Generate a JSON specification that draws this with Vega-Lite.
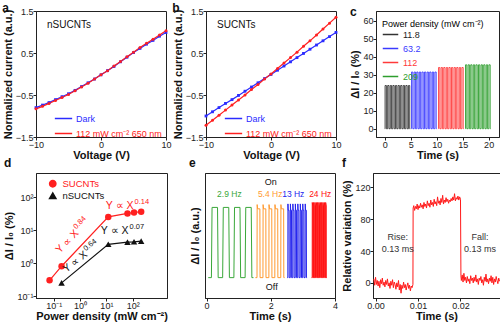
{
"$schema": "https://vega.github.io/schema/vega-lite/v6.json",
"padding": {"left": 1, "top": 1, "right": 0, "bottom": 0},
"spacing": -5,
"config": {
  "font": "Liberation Sans",
  "view": {"stroke": "#222", "strokeWidth": 1},
  "axis": {"labelFontSize": 9, "titleFontSize": 11, "titleFontWeight": "bold", "labelColor": "#222", "titleColor": "#111", "domainColor": "#222", "tickColor": "#222", "tickSize": 3, "grid": false, "labelPadding": 0, "titlePadding": 0, "labelFlush": false},
  "title": {"fontSize": 12, "fontWeight": "bold", "anchor": "start", "frame": "bounds", "offset": -8, "color": "#111"},
  "legend": {"labelFontSize": 9, "titleFontSize": 9, "titleFontWeight": "normal", "padding": 0, "rowPadding": 0}
},
"datasets": {
  "ivA": [
    {"s":"Dark","v":-10,"i":-0.80},{"s":"Dark","v":-9,"i":-0.74},{"s":"Dark","v":-8,"i":-0.68},{"s":"Dark","v":-7,"i":-0.61},{"s":"Dark","v":-6,"i":-0.54},{"s":"Dark","v":-5,"i":-0.47},{"s":"Dark","v":-4,"i":-0.39},{"s":"Dark","v":-3,"i":-0.30},{"s":"Dark","v":-2,"i":-0.21},{"s":"Dark","v":-1,"i":-0.12},{"s":"Dark","v":0,"i":-0.02},{"s":"Dark","v":1,"i":0.08},{"s":"Dark","v":2,"i":0.18},{"s":"Dark","v":3,"i":0.29},{"s":"Dark","v":4,"i":0.40},{"s":"Dark","v":5,"i":0.51},{"s":"Dark","v":6,"i":0.61},{"s":"Dark","v":7,"i":0.71},{"s":"Dark","v":8,"i":0.80},{"s":"Dark","v":9,"i":0.90},{"s":"Dark","v":10,"i":0.99},
    {"s":"112 mW cm⁻² 650 nm","v":-10,"i":-0.83},{"s":"112 mW cm⁻² 650 nm","v":-9,"i":-0.77},{"s":"112 mW cm⁻² 650 nm","v":-8,"i":-0.70},{"s":"112 mW cm⁻² 650 nm","v":-7,"i":-0.63},{"s":"112 mW cm⁻² 650 nm","v":-6,"i":-0.56},{"s":"112 mW cm⁻² 650 nm","v":-5,"i":-0.49},{"s":"112 mW cm⁻² 650 nm","v":-4,"i":-0.40},{"s":"112 mW cm⁻² 650 nm","v":-3,"i":-0.31},{"s":"112 mW cm⁻² 650 nm","v":-2,"i":-0.22},{"s":"112 mW cm⁻² 650 nm","v":-1,"i":-0.12},{"s":"112 mW cm⁻² 650 nm","v":0,"i":-0.02},{"s":"112 mW cm⁻² 650 nm","v":1,"i":0.08},{"s":"112 mW cm⁻² 650 nm","v":2,"i":0.19},{"s":"112 mW cm⁻² 650 nm","v":3,"i":0.30},{"s":"112 mW cm⁻² 650 nm","v":4,"i":0.41},{"s":"112 mW cm⁻² 650 nm","v":5,"i":0.52},{"s":"112 mW cm⁻² 650 nm","v":6,"i":0.63},{"s":"112 mW cm⁻² 650 nm","v":7,"i":0.73},{"s":"112 mW cm⁻² 650 nm","v":8,"i":0.83},{"s":"112 mW cm⁻² 650 nm","v":9,"i":0.93},{"s":"112 mW cm⁻² 650 nm","v":10,"i":1.03}
  ],
  "ivB": [
    {"s":"Dark","v":-10,"i":-1.00},{"s":"Dark","v":-9,"i":-0.90},{"s":"Dark","v":-8,"i":-0.80},{"s":"Dark","v":-7,"i":-0.70},{"s":"Dark","v":-6,"i":-0.61},{"s":"Dark","v":-5,"i":-0.51},{"s":"Dark","v":-4,"i":-0.41},{"s":"Dark","v":-3,"i":-0.31},{"s":"Dark","v":-2,"i":-0.21},{"s":"Dark","v":-1,"i":-0.11},{"s":"Dark","v":0,"i":-0.01},{"s":"Dark","v":1,"i":0.09},{"s":"Dark","v":2,"i":0.19},{"s":"Dark","v":3,"i":0.29},{"s":"Dark","v":4,"i":0.39},{"s":"Dark","v":5,"i":0.49},{"s":"Dark","v":6,"i":0.59},{"s":"Dark","v":7,"i":0.69},{"s":"Dark","v":8,"i":0.79},{"s":"Dark","v":9,"i":0.89},{"s":"Dark","v":10,"i":0.99},
    {"s":"112 mW cm⁻² 650 nm","v":-10,"i":-1.22},{"s":"112 mW cm⁻² 650 nm","v":-9,"i":-1.10},{"s":"112 mW cm⁻² 650 nm","v":-8,"i":-0.98},{"s":"112 mW cm⁻² 650 nm","v":-7,"i":-0.86},{"s":"112 mW cm⁻² 650 nm","v":-6,"i":-0.74},{"s":"112 mW cm⁻² 650 nm","v":-5,"i":-0.62},{"s":"112 mW cm⁻² 650 nm","v":-4,"i":-0.50},{"s":"112 mW cm⁻² 650 nm","v":-3,"i":-0.37},{"s":"112 mW cm⁻² 650 nm","v":-2,"i":-0.25},{"s":"112 mW cm⁻² 650 nm","v":-1,"i":-0.12},{"s":"112 mW cm⁻² 650 nm","v":0,"i":0.00},{"s":"112 mW cm⁻² 650 nm","v":1,"i":0.13},{"s":"112 mW cm⁻² 650 nm","v":2,"i":0.26},{"s":"112 mW cm⁻² 650 nm","v":3,"i":0.39},{"s":"112 mW cm⁻² 650 nm","v":4,"i":0.52},{"s":"112 mW cm⁻² 650 nm","v":5,"i":0.66},{"s":"112 mW cm⁻² 650 nm","v":6,"i":0.79},{"s":"112 mW cm⁻² 650 nm","v":7,"i":0.93},{"s":"112 mW cm⁻² 650 nm","v":8,"i":1.07},{"s":"112 mW cm⁻² 650 nm","v":9,"i":1.21},{"s":"112 mW cm⁻² 650 nm","v":10,"i":1.35}
  ],
  "pulsesC": [
    {"p":"11.8","t":0,"y":0},{"p":"11.8","t":0.05,"y":24},{"p":"11.8","t":0.3,"y":0},{"p":"11.8","t":0.55,"y":24},{"p":"11.8","t":0.8,"y":0},{"p":"11.8","t":1.05,"y":24},{"p":"11.8","t":1.3,"y":0},{"p":"11.8","t":1.55,"y":24},{"p":"11.8","t":1.8,"y":0},{"p":"11.8","t":2.05,"y":24},{"p":"11.8","t":2.3,"y":0},{"p":"11.8","t":2.55,"y":24},{"p":"11.8","t":2.8,"y":0},{"p":"11.8","t":3.05,"y":24},{"p":"11.8","t":3.3,"y":0},{"p":"11.8","t":3.55,"y":24},{"p":"11.8","t":3.8,"y":0},{"p":"11.8","t":4.05,"y":24},{"p":"11.8","t":4.3,"y":0},{"p":"11.8","t":4.55,"y":24},{"p":"11.8","t":4.8,"y":0},{"p":"11.8","t":4.9,"y":0},
    {"p":"63.2","t":5.1,"y":0},{"p":"63.2","t":5.15,"y":31.5},{"p":"63.2","t":5.4,"y":0},{"p":"63.2","t":5.65,"y":31.5},{"p":"63.2","t":5.9,"y":0},{"p":"63.2","t":6.15,"y":31.5},{"p":"63.2","t":6.4,"y":0},{"p":"63.2","t":6.65,"y":31.5},{"p":"63.2","t":6.9,"y":0},{"p":"63.2","t":7.15,"y":31.5},{"p":"63.2","t":7.4,"y":0},{"p":"63.2","t":7.65,"y":31.5},{"p":"63.2","t":7.9,"y":0},{"p":"63.2","t":8.15,"y":31.5},{"p":"63.2","t":8.4,"y":0},{"p":"63.2","t":8.65,"y":31.5},{"p":"63.2","t":8.9,"y":0},{"p":"63.2","t":9.15,"y":31.5},{"p":"63.2","t":9.4,"y":0},{"p":"63.2","t":9.65,"y":31.5},{"p":"63.2","t":9.9,"y":0},{"p":"63.2","t":10.0,"y":0},
    {"p":"112","t":10.3,"y":0},{"p":"112","t":10.35,"y":34},{"p":"112","t":10.6,"y":0},{"p":"112","t":10.85,"y":34},{"p":"112","t":11.1,"y":0},{"p":"112","t":11.35,"y":34},{"p":"112","t":11.6,"y":0},{"p":"112","t":11.85,"y":34},{"p":"112","t":12.1,"y":0},{"p":"112","t":12.35,"y":34},{"p":"112","t":12.6,"y":0},{"p":"112","t":12.85,"y":34},{"p":"112","t":13.1,"y":0},{"p":"112","t":13.35,"y":34},{"p":"112","t":13.6,"y":0},{"p":"112","t":13.85,"y":34},{"p":"112","t":14.1,"y":0},{"p":"112","t":14.35,"y":34},{"p":"112","t":14.6,"y":0},{"p":"112","t":14.85,"y":34},{"p":"112","t":15.1,"y":0},{"p":"112","t":15.2,"y":0},
    {"p":"209","t":15.5,"y":0},{"p":"209","t":15.55,"y":35.5},{"p":"209","t":15.8,"y":0},{"p":"209","t":16.05,"y":35.5},{"p":"209","t":16.3,"y":0},{"p":"209","t":16.55,"y":35.5},{"p":"209","t":16.8,"y":0},{"p":"209","t":17.05,"y":35.5},{"p":"209","t":17.3,"y":0},{"p":"209","t":17.55,"y":35.5},{"p":"209","t":17.8,"y":0},{"p":"209","t":18.05,"y":35.5},{"p":"209","t":18.3,"y":0},{"p":"209","t":18.55,"y":35.5},{"p":"209","t":18.8,"y":0},{"p":"209","t":19.05,"y":35.5},{"p":"209","t":19.3,"y":0},{"p":"209","t":19.55,"y":35.5},{"p":"209","t":19.8,"y":0},{"p":"209","t":20.05,"y":35.5},{"p":"209","t":20.3,"y":0},{"p":"209","t":20.4,"y":0}
  ],
  "powerD": [
    {"s":"SUCNTs","x":0.07,"y":0.3},{"s":"SUCNTs","x":0.2,"y":0.8},{"s":"SUCNTs","x":11.8,"y":25},{"s":"SUCNTs","x":63.2,"y":32},{"s":"SUCNTs","x":112,"y":34},{"s":"SUCNTs","x":209,"y":36},
    {"s":"nSUCNTs","x":0.2,"y":0.25},{"s":"nSUCNTs","x":11.8,"y":3.7},{"s":"nSUCNTs","x":63.2,"y":4.3},{"s":"nSUCNTs","x":112,"y":4.4},{"s":"nSUCNTs","x":209,"y":4.6}
  ],
  "freqE": [
    {"s":"2.9 Hz","t":0.05,"y":0},{"s":"2.9 Hz","t":0.15,"y":0},{"s":"2.9 Hz","t":0.17,"y":1},{"s":"2.9 Hz","t":0.34,"y":1},{"s":"2.9 Hz","t":0.36,"y":0},{"s":"2.9 Hz","t":0.5,"y":0},{"s":"2.9 Hz","t":0.52,"y":1},{"s":"2.9 Hz","t":0.69,"y":1},{"s":"2.9 Hz","t":0.71,"y":0},{"s":"2.9 Hz","t":0.85,"y":0},{"s":"2.9 Hz","t":0.87,"y":1},{"s":"2.9 Hz","t":1.04,"y":1},{"s":"2.9 Hz","t":1.06,"y":0},{"s":"2.9 Hz","t":1.2,"y":0},{"s":"2.9 Hz","t":1.22,"y":1},{"s":"2.9 Hz","t":1.39,"y":1},{"s":"2.9 Hz","t":1.41,"y":0},{"s":"2.9 Hz","t":1.46,"y":0},
    {"s":"5.4 Hz","t":1.52,"y":0},{"s":"5.4 Hz","t":1.57,"y":0},{"s":"5.4 Hz","t":1.575,"y":1.04},{"s":"5.4 Hz","t":1.59,"y":0.98},{"s":"5.4 Hz","t":1.66,"y":0.98},{"s":"5.4 Hz","t":1.665,"y":0},{"s":"5.4 Hz","t":1.755,"y":0},{"s":"5.4 Hz","t":1.76,"y":1.04},{"s":"5.4 Hz","t":1.775,"y":0.98},{"s":"5.4 Hz","t":1.845,"y":0.98},{"s":"5.4 Hz","t":1.85,"y":0},{"s":"5.4 Hz","t":1.94,"y":0},{"s":"5.4 Hz","t":1.945,"y":1.04},{"s":"5.4 Hz","t":1.96,"y":0.98},{"s":"5.4 Hz","t":2.03,"y":0.98},{"s":"5.4 Hz","t":2.035,"y":0},{"s":"5.4 Hz","t":2.125,"y":0},{"s":"5.4 Hz","t":2.13,"y":1.04},{"s":"5.4 Hz","t":2.145,"y":0.98},{"s":"5.4 Hz","t":2.215,"y":0.98},{"s":"5.4 Hz","t":2.22,"y":0},{"s":"5.4 Hz","t":2.31,"y":0},{"s":"5.4 Hz","t":2.315,"y":1.04},{"s":"5.4 Hz","t":2.33,"y":0.98},{"s":"5.4 Hz","t":2.4,"y":0.98},{"s":"5.4 Hz","t":2.405,"y":0},{"s":"5.4 Hz","t":2.43,"y":0},
    {"s":"13 Hz","t":2.51,"y":0},
    {"s":"13 Hz","t":2.53,"y":0},{"s":"13 Hz","t":2.534,"y":1.05},{"s":"13 Hz","t":2.542,"y":0.96},{"s":"13 Hz","t":2.568,"y":0.96},{"s":"13 Hz","t":2.572,"y":0},
    {"s":"13 Hz","t":2.607,"y":0},{"s":"13 Hz","t":2.611,"y":1.05},{"s":"13 Hz","t":2.619,"y":0.96},{"s":"13 Hz","t":2.645,"y":0.96},{"s":"13 Hz","t":2.649,"y":0},
    {"s":"13 Hz","t":2.684,"y":0},{"s":"13 Hz","t":2.688,"y":1.05},{"s":"13 Hz","t":2.696,"y":0.96},{"s":"13 Hz","t":2.722,"y":0.96},{"s":"13 Hz","t":2.726,"y":0},
    {"s":"13 Hz","t":2.761,"y":0},{"s":"13 Hz","t":2.765,"y":1.05},{"s":"13 Hz","t":2.773,"y":0.96},{"s":"13 Hz","t":2.799,"y":0.96},{"s":"13 Hz","t":2.803,"y":0},
    {"s":"13 Hz","t":2.838,"y":0},{"s":"13 Hz","t":2.842,"y":1.05},{"s":"13 Hz","t":2.85,"y":0.96},{"s":"13 Hz","t":2.876,"y":0.96},{"s":"13 Hz","t":2.88,"y":0},
    {"s":"13 Hz","t":2.915,"y":0},{"s":"13 Hz","t":2.919,"y":1.05},{"s":"13 Hz","t":2.927,"y":0.96},{"s":"13 Hz","t":2.953,"y":0.96},{"s":"13 Hz","t":2.957,"y":0},
    {"s":"13 Hz","t":2.992,"y":0},{"s":"13 Hz","t":2.996,"y":1.05},{"s":"13 Hz","t":3.004,"y":0.96},{"s":"13 Hz","t":3.03,"y":0.96},{"s":"13 Hz","t":3.034,"y":0},
    {"s":"13 Hz","t":3.069,"y":0},{"s":"13 Hz","t":3.073,"y":1.05},{"s":"13 Hz","t":3.081,"y":0.96},{"s":"13 Hz","t":3.107,"y":0.96},{"s":"13 Hz","t":3.111,"y":0},
    {"s":"13 Hz","t":3.13,"y":0},
    {"s":"24 Hz","t":3.27,"y":0},
    {"s":"24 Hz","t":3.29,"y":0},{"s":"24 Hz","t":3.292,"y":1.07},{"s":"24 Hz","t":3.309,"y":1.02},{"s":"24 Hz","t":3.311,"y":0},
    {"s":"24 Hz","t":3.332,"y":0},{"s":"24 Hz","t":3.334,"y":1.07},{"s":"24 Hz","t":3.351,"y":1.02},{"s":"24 Hz","t":3.353,"y":0},
    {"s":"24 Hz","t":3.373,"y":0},{"s":"24 Hz","t":3.375,"y":1.07},{"s":"24 Hz","t":3.392,"y":1.02},{"s":"24 Hz","t":3.394,"y":0},
    {"s":"24 Hz","t":3.415,"y":0},{"s":"24 Hz","t":3.417,"y":1.07},{"s":"24 Hz","t":3.434,"y":1.02},{"s":"24 Hz","t":3.436,"y":0},
    {"s":"24 Hz","t":3.457,"y":0},{"s":"24 Hz","t":3.459,"y":1.07},{"s":"24 Hz","t":3.476,"y":1.02},{"s":"24 Hz","t":3.478,"y":0},
    {"s":"24 Hz","t":3.498,"y":0},{"s":"24 Hz","t":3.5,"y":1.07},{"s":"24 Hz","t":3.517,"y":1.02},{"s":"24 Hz","t":3.519,"y":0},
    {"s":"24 Hz","t":3.54,"y":0},{"s":"24 Hz","t":3.542,"y":1.07},{"s":"24 Hz","t":3.559,"y":1.02},{"s":"24 Hz","t":3.561,"y":0},
    {"s":"24 Hz","t":3.582,"y":0},{"s":"24 Hz","t":3.584,"y":1.07},{"s":"24 Hz","t":3.601,"y":1.02},{"s":"24 Hz","t":3.603,"y":0},
    {"s":"24 Hz","t":3.623,"y":0},{"s":"24 Hz","t":3.625,"y":1.07},{"s":"24 Hz","t":3.642,"y":1.02},{"s":"24 Hz","t":3.644,"y":0},
    {"s":"24 Hz","t":3.665,"y":0},{"s":"24 Hz","t":3.667,"y":1.07},{"s":"24 Hz","t":3.684,"y":1.02},{"s":"24 Hz","t":3.686,"y":0},
    {"s":"24 Hz","t":3.707,"y":0},{"s":"24 Hz","t":3.709,"y":1.07},{"s":"24 Hz","t":3.726,"y":1.02},{"s":"24 Hz","t":3.728,"y":0},
    {"s":"24 Hz","t":3.75,"y":0}
  ],
  "respF": [
    {"t":-0.0004,"v":5},{"t":-0.0002,"v":-3},{"t":0.0,"v":7},{"t":0.0002,"v":-2},{"t":0.0004,"v":3},{"t":0.0006,"v":-4},{"t":0.0008,"v":2},{"t":0.001,"v":-6},{"t":0.0012,"v":4},{"t":0.0014,"v":-1},{"t":0.0016,"v":6},{"t":0.0018,"v":-3},{"t":0.002,"v":1},{"t":0.0022,"v":-5},{"t":0.0024,"v":3},{"t":0.0026,"v":-2},{"t":0.0028,"v":5},{"t":0.003,"v":-4},{"t":0.0032,"v":0},{"t":0.0034,"v":-7},{"t":0.0036,"v":2},{"t":0.0038,"v":-3},{"t":0.004,"v":4},{"t":0.0042,"v":-6},{"t":0.0044,"v":1},{"t":0.0046,"v":-2},{"t":0.0048,"v":-8},{"t":0.005,"v":0},{"t":0.0052,"v":-5},{"t":0.0054,"v":3},{"t":0.0056,"v":-9},{"t":0.0058,"v":-2},{"t":0.006,"v":-13},{"t":0.0062,"v":-3},{"t":0.0064,"v":-7},{"t":0.0066,"v":1},{"t":0.0068,"v":-6},{"t":0.007,"v":-2},{"t":0.0072,"v":-9},{"t":0.0074,"v":-4},{"t":0.0076,"v":0},{"t":0.0078,"v":-7},{"t":0.008,"v":-3},{"t":0.0082,"v":-10},{"t":0.0084,"v":-4},{"t":0.0086,"v":-6},{"t":0.0088,"v":-2},
    {"t":0.00885,"v":94},{"t":0.009,"v":97},{"t":0.0092,"v":91},{"t":0.0094,"v":96},{"t":0.0096,"v":93},{"t":0.0098,"v":99},{"t":0.01,"v":92},{"t":0.0102,"v":97},{"t":0.0104,"v":94},{"t":0.0106,"v":100},{"t":0.0108,"v":95},{"t":0.011,"v":98},{"t":0.0112,"v":93},{"t":0.0114,"v":101},{"t":0.0116,"v":96},{"t":0.0118,"v":99},{"t":0.012,"v":94},{"t":0.0122,"v":103},{"t":0.0124,"v":97},{"t":0.0126,"v":100},{"t":0.0128,"v":95},{"t":0.013,"v":104},{"t":0.0132,"v":98},{"t":0.0134,"v":101},{"t":0.0136,"v":96},{"t":0.0138,"v":105},{"t":0.014,"v":99},{"t":0.0142,"v":102},{"t":0.0144,"v":97},{"t":0.0146,"v":108},{"t":0.0148,"v":100},{"t":0.015,"v":103},{"t":0.0152,"v":98},{"t":0.0154,"v":106},{"t":0.0156,"v":101},{"t":0.0158,"v":110},{"t":0.016,"v":99},{"t":0.0162,"v":104},{"t":0.0164,"v":101},{"t":0.0166,"v":107},{"t":0.0168,"v":102},{"t":0.017,"v":105},{"t":0.0172,"v":100},{"t":0.0174,"v":104},{"t":0.0176,"v":102},{"t":0.0178,"v":106},{"t":0.018,"v":103},{"t":0.0182,"v":108},{"t":0.0184,"v":104},{"t":0.0186,"v":112},{"t":0.0188,"v":103},{"t":0.019,"v":107},{"t":0.0192,"v":105},{"t":0.0194,"v":109},{"t":0.0196,"v":104},{"t":0.0198,"v":108},{"t":0.02,"v":105},
    {"t":0.0201,"v":9},{"t":0.0202,"v":3},{"t":0.0204,"v":10},{"t":0.0206,"v":1},{"t":0.0208,"v":12},{"t":0.021,"v":3},{"t":0.0212,"v":7},{"t":0.0214,"v":0},{"t":0.0216,"v":8},{"t":0.0218,"v":2},{"t":0.022,"v":5},{"t":0.0222,"v":-1},{"t":0.0224,"v":9},{"t":0.0226,"v":3},{"t":0.0228,"v":6},{"t":0.023,"v":0},{"t":0.0232,"v":7},{"t":0.0234,"v":2},{"t":0.0236,"v":10},{"t":0.0238,"v":1},{"t":0.024,"v":5},{"t":0.0242,"v":-2},{"t":0.0244,"v":6},{"t":0.0246,"v":3},{"t":0.0248,"v":8},{"t":0.025,"v":0},{"t":0.0252,"v":4},{"t":0.0254,"v":-3},{"t":0.0256,"v":7},{"t":0.0258,"v":2},{"t":0.026,"v":11},{"t":0.0262,"v":1},{"t":0.0264,"v":5},{"t":0.0266,"v":-1},{"t":0.0268,"v":6},{"t":0.027,"v":2},{"t":0.0272,"v":9},{"t":0.0274,"v":0},{"t":0.0276,"v":7},{"t":0.0278,"v":-2},{"t":0.028,"v":5},{"t":0.0282,"v":1},{"t":0.0284,"v":8},{"t":0.0286,"v":3},{"t":0.0288,"v":-1},{"t":0.029,"v":6},{"t":0.0292,"v":2}
  ]
},
"resolve": {"scale": {"color": "independent", "shape": "independent"}, "legend": {"color": "independent", "shape": "independent"}},
"vconcat": [
 {
  "spacing": 40,
  "bounds": "flush",
  "resolve": {"scale": {"color": "independent", "shape": "independent", "x": "independent", "y": "independent"}, "legend": {"color": "independent", "shape": "independent"}},
  "hconcat": [
   {
    "title": {"text": "a"},
    "width": 130, "height": 126,
    "data": {"name": "ivA"},
    "layer": [
     {"mark": {"type": "line", "strokeWidth": 1.2},
      "encoding": {
       "x": {"field": "v", "type": "quantitative", "scale": {"domain": [-10, 10], "nice": false}, "axis": {"values": [-10, -5, 0, 5, 10], "title": "Voltage (V)"}},
       "y": {"field": "i", "type": "quantitative", "scale": {"domain": [-1.5, 1.5], "nice": false}, "axis": {"values": [-1.5, -1, -0.5, 0, 0.5, 1, 1.5], "format": ".1f", "title": "Normalized current (a.u.)", "titlePadding": 2}},
       "color": {"field": "s", "type": "nominal", "scale": {"domain": ["Dark", "112 mW cm⁻² 650 nm"], "range": ["#2b2bff", "#ff2020"]},
        "legend": {"orient": "none", "legendX": 18, "legendY": 98, "title": null, "symbolType": "stroke", "symbolSize": 300, "symbolStrokeWidth": 1.5, "labelOffset": 3, "labelFontSize": 9, "rowPadding": -1,
         "encode": {"labels": {"update": {"fill": {"signal": "datum.value === 'Dark' ? '#2b2bff' : '#ff2020'"}}}}}}
      }},
     {"transform": [{"filter": "datum.s === 'Dark'"}],
      "mark": {"type": "square", "size": 8, "opacity": 1, "color": "#2b2bff"},
      "encoding": {"x": {"field": "v", "type": "quantitative"}, "y": {"field": "i", "type": "quantitative"}}},
     {"transform": [{"filter": "datum.s !== 'Dark'"}],
      "mark": {"type": "circle", "size": 9, "opacity": 1, "color": "#ff2020"},
      "encoding": {"x": {"field": "v", "type": "quantitative"}, "y": {"field": "i", "type": "quantitative"}}},
     {"data": {"values": [{}]},
      "mark": {"type": "text", "fontSize": 10, "align": "left", "baseline": "middle", "color": "#111"},
      "encoding": {"x": {"datum": -8.3}, "y": {"datum": 1.17}, "text": {"value": "nSUCNTs"}}}
    ]
   },
   {
    "title": {"text": "b"},
    "width": 130, "height": 126,
    "data": {"name": "ivB"},
    "layer": [
     {"mark": {"type": "line", "strokeWidth": 1.2},
      "encoding": {
       "x": {"field": "v", "type": "quantitative", "scale": {"domain": [-10, 10], "nice": false}, "axis": {"values": [-10, -5, 0, 5, 10], "title": "Voltage (V)"}},
       "y": {"field": "i", "type": "quantitative", "scale": {"domain": [-1.5, 1.5], "nice": false}, "axis": {"values": [-1.5, -1, -0.5, 0, 0.5, 1, 1.5], "format": ".1f", "title": "Normalized current (a.u.)", "titlePadding": 2}},
       "color": {"field": "s", "type": "nominal", "scale": {"domain": ["Dark", "112 mW cm⁻² 650 nm"], "range": ["#2b2bff", "#ff2020"]},
        "legend": {"orient": "none", "legendX": 18, "legendY": 98, "title": null, "symbolType": "stroke", "symbolSize": 300, "symbolStrokeWidth": 1.5, "labelOffset": 3, "labelFontSize": 9, "rowPadding": -1,
         "encode": {"labels": {"update": {"fill": {"signal": "datum.value === 'Dark' ? '#2b2bff' : '#ff2020'"}}}}}}
      }},
     {"transform": [{"filter": "datum.s === 'Dark'"}],
      "mark": {"type": "square", "size": 8, "opacity": 1, "color": "#2b2bff"},
      "encoding": {"x": {"field": "v", "type": "quantitative"}, "y": {"field": "i", "type": "quantitative"}}},
     {"transform": [{"filter": "datum.s !== 'Dark'"}],
      "mark": {"type": "circle", "size": 9, "opacity": 1, "color": "#ff2020"},
      "encoding": {"x": {"field": "v", "type": "quantitative"}, "y": {"field": "i", "type": "quantitative"}}},
     {"data": {"values": [{}]},
      "mark": {"type": "text", "fontSize": 10, "align": "left", "baseline": "middle", "color": "#111"},
      "encoding": {"x": {"datum": -8.3}, "y": {"datum": 1.17}, "text": {"value": "SUCNTs"}}}
    ]
   },
   {
    "title": {"text": "c"},
    "width": 123, "height": 126,
    "data": {"name": "pulsesC"},
    "mark": {"type": "line", "interpolate": "step-after", "strokeWidth": 0.9},
    "encoding": {
     "x": {"field": "t", "type": "quantitative", "scale": {"domain": [-1.7, 22], "nice": false}, "axis": {"values": [0, 5, 10, 15, 20], "title": "Time (s)"}},
     "y": {"field": "y", "type": "quantitative", "scale": {"domain": [-4.6, 65.4], "nice": false}, "axis": {"values": [0, 10, 20, 30, 40, 50, 60], "title": "ΔI / I₀ (%)", "titlePadding": 2}},
     "color": {"field": "p", "type": "nominal", "scale": {"domain": ["11.8", "63.2", "112", "209"], "range": ["#333333", "#3a3aff", "#ff3a3a", "#2e9e2e"]},
      "legend": {"orient": "none", "legendX": 6, "legendY": 9, "title": "Power density (mW cm⁻²)", "titlePadding": -3, "symbolType": "stroke", "symbolSize": 240, "symbolStrokeWidth": 1.5, "labelOffset": 4, "labelFontSize": 9, "rowPadding": -1,
       "encode": {"labels": {"update": {"fill": {"signal": "datum.value === '11.8' ? '#222222' : datum.value === '63.2' ? '#3a3aff' : datum.value === '112' ? '#ff3a3a' : '#2e9e2e'"}}}}}}
    }
   }
  ]
 },
 {
  "spacing": 38,
  "bounds": "flush",
  "resolve": {"scale": {"color": "independent", "shape": "independent", "x": "independent", "y": "independent"}, "legend": {"color": "independent", "shape": "independent"}},
  "hconcat": [
   {
    "title": {"text": "d", "offset": 3},
    "width": 131, "height": 125,
    "data": {"name": "powerD"},
    "layer": [
     {"mark": {"type": "line", "strokeWidth": 1.2},
      "encoding": {
       "x": {"field": "x", "type": "quantitative", "scale": {"type": "log", "domain": [0.0214, 1995], "nice": false}, "axis": {"values": [0.1, 1, 10, 100], "labelExpr": "datum.value < 0.5 ? '10⁻¹' : datum.value < 5 ? '10⁰' : datum.value < 50 ? '10¹' : '10²'", "title": "Power density (mW cm⁻²)"}},
       "y": {"field": "y", "type": "quantitative", "scale": {"type": "log", "domain": [0.087, 537], "nice": false}, "axis": {"values": [0.1, 1, 10, 100], "labelExpr": "datum.value < 0.5 ? '10⁻¹' : datum.value < 5 ? '10⁰' : datum.value < 50 ? '10¹' : '10²'", "title": "ΔI / I₀ (%)", "titlePadding": 2}},
       "color": {"field": "s", "type": "nominal", "scale": {"domain": ["SUCNTs", "nSUCNTs"], "range": ["#ff2020", "#111111"]},
        "legend": {"orient": "none", "legendX": 12, "legendY": 6, "title": null, "labelFontSize": 9.5, "symbolSize": 40, "labelOffset": 5,
         "encode": {"labels": {"update": {"fill": {"signal": "datum.value === 'SUCNTs' ? '#ff2020' : '#111111'"}}}}}}
      }},
     {"mark": {"type": "point", "filled": true, "size": 42, "opacity": 1},
      "encoding": {
       "x": {"field": "x", "type": "quantitative"},
       "y": {"field": "y", "type": "quantitative"},
       "color": {"field": "s", "type": "nominal"},
       "shape": {"field": "s", "type": "nominal", "scale": {"domain": ["SUCNTs", "nSUCNTs"], "range": ["circle", "triangle-up"]},
        "legend": {"orient": "none", "legendX": 12, "legendY": 6, "title": null, "labelFontSize": 9.5, "symbolSize": 40, "labelOffset": 5,
         "encode": {"labels": {"update": {"fill": {"signal": "datum.value === 'SUCNTs' ? '#ff2020' : '#111111'"}}}}}}
      }},
     {"data": {"values": [{}]}, "mark": {"type": "text", "fontSize": 10.5, "align": "right", "baseline": "alphabetic", "angle": 314, "color": "#ff2020"},
      "encoding": {"x": {"datum": 0.92}, "y": {"datum": 7.7}, "text": {"value": "Y ∝ X"}}},
     {"data": {"values": [{}]}, "mark": {"type": "text", "fontSize": 7.5, "align": "left", "baseline": "alphabetic", "angle": 314, "dx": 1, "dy": -5, "color": "#ff2020"},
      "encoding": {"x": {"datum": 0.92}, "y": {"datum": 7.7}, "text": {"value": "0.84"}}},
     {"data": {"values": [{}]}, "mark": {"type": "text", "fontSize": 10.5, "align": "right", "baseline": "alphabetic", "color": "#ff2020"},
      "encoding": {"x": {"datum": 107}, "y": {"datum": 42}, "text": {"value": "Y ∝ X"}}},
     {"data": {"values": [{}]}, "mark": {"type": "text", "fontSize": 7.5, "align": "left", "baseline": "alphabetic", "dx": 1, "dy": -5, "color": "#ff2020"},
      "encoding": {"x": {"datum": 107}, "y": {"datum": 42}, "text": {"value": "0.14"}}},
     {"data": {"values": [{}]}, "mark": {"type": "text", "fontSize": 10.5, "align": "right", "baseline": "alphabetic", "angle": 322, "color": "#111111"},
      "encoding": {"x": {"datum": 2.0}, "y": {"datum": 1.66}, "text": {"value": "Y ∝ X"}}},
     {"data": {"values": [{}]}, "mark": {"type": "text", "fontSize": 7.5, "align": "left", "baseline": "alphabetic", "angle": 322, "dx": 1, "dy": -5, "color": "#111111"},
      "encoding": {"x": {"datum": 2.0}, "y": {"datum": 1.66}, "text": {"value": "0.64"}}},
     {"data": {"values": [{}]}, "mark": {"type": "text", "fontSize": 10.5, "align": "right", "baseline": "alphabetic", "color": "#111111"},
      "encoding": {"x": {"datum": 69}, "y": {"datum": 7.4}, "text": {"value": "Y ∝ X"}}},
     {"data": {"values": [{}]}, "mark": {"type": "text", "fontSize": 7.5, "align": "left", "baseline": "alphabetic", "dx": 1, "dy": -5, "color": "#111111"},
      "encoding": {"x": {"datum": 69}, "y": {"datum": 7.4}, "text": {"value": "0.07"}}}
    ]
   },
   {
    "title": {"text": "e", "offset": 3},
    "width": 130, "height": 125,
    "data": {"name": "freqE"},
    "layer": [
     {"mark": {"type": "line", "strokeWidth": 1},
      "encoding": {
       "x": {"field": "t", "type": "quantitative", "scale": {"domain": [-0.05, 4], "nice": false}, "axis": {"values": [0, 1, 2, 3, 4], "title": "Time (s)"}},
       "y": {"field": "y", "type": "quantitative", "scale": {"domain": [-0.29, 1.49], "nice": false}, "axis": {"labels": false, "ticks": false, "title": "ΔI / I₀ (a.u.)", "titlePadding": 5}},
       "color": {"field": "s", "type": "nominal", "scale": {"domain": ["2.9 Hz", "5.4 Hz", "13 Hz", "24 Hz"], "range": ["#3aa83a", "#ff9a30", "#2323ee", "#ff1010"]}, "legend": null}
      }},
     {"data": {"values": [{}]}, "mark": {"type": "text", "fontSize": 9, "align": "center", "baseline": "middle", "color": "#111111"},
      "encoding": {"x": {"datum": 2.0}, "y": {"datum": 1.36}, "text": {"value": "On"}}},
     {"data": {"values": [{}]}, "mark": {"type": "text", "fontSize": 9, "align": "center", "baseline": "middle", "color": "#111111"},
      "encoding": {"x": {"datum": 2.03}, "y": {"datum": -0.135}, "text": {"value": "Off"}}},
     {"data": {"values": [{}]}, "mark": {"type": "text", "fontSize": 8.5, "align": "center", "baseline": "middle", "color": "#3aa83a"},
      "encoding": {"x": {"datum": 0.71}, "y": {"datum": 1.19}, "text": {"value": "2.9 Hz"}}},
     {"data": {"values": [{}]}, "mark": {"type": "text", "fontSize": 8.5, "align": "center", "baseline": "middle", "color": "#ff9a30"},
      "encoding": {"x": {"datum": 1.98}, "y": {"datum": 1.19}, "text": {"value": "5.4 Hz"}}},
     {"data": {"values": [{}]}, "mark": {"type": "text", "fontSize": 8.5, "align": "center", "baseline": "middle", "color": "#2323ee"},
      "encoding": {"x": {"datum": 2.7}, "y": {"datum": 1.19}, "text": {"value": "13 Hz"}}},
     {"data": {"values": [{}]}, "mark": {"type": "text", "fontSize": 8.5, "align": "center", "baseline": "middle", "color": "#ff1010"},
      "encoding": {"x": {"datum": 3.54}, "y": {"datum": 1.19}, "text": {"value": "24 Hz"}}}
    ]
   },
   {
    "title": {"text": "f", "offset": 3},
    "width": 127, "height": 125,
    "data": {"name": "respF"},
    "layer": [
     {"mark": {"type": "line", "strokeWidth": 1, "color": "#ff1a1a"},
      "encoding": {
       "x": {"field": "t", "type": "quantitative", "scale": {"domain": [-0.0006, 0.0293], "nice": false}, "axis": {"values": [0, 0.01, 0.02], "format": ".2f", "title": "Time (s)"}},
       "y": {"field": "v", "type": "quantitative", "scale": {"domain": [-19, 138], "nice": false}, "axis": {"values": [0, 40, 80, 120], "title": "Relative variation (%)", "titlePadding": 2}}
      }},
     {"data": {"values": [{}]}, "mark": {"type": "text", "fontSize": 9, "align": "center", "baseline": "middle", "lineHeight": 12, "color": "#333333"},
      "encoding": {"x": {"datum": 0.0052}, "y": {"datum": 57}, "text": {"value": ["Rise:", "0.13 ms"]}}},
     {"data": {"values": [{}]}, "mark": {"type": "text", "fontSize": 9, "align": "center", "baseline": "middle", "lineHeight": 12, "color": "#333333"},
      "encoding": {"x": {"datum": 0.0246}, "y": {"datum": 57}, "text": {"value": ["Fall:", "0.13 ms"]}}}
    ]
   }
  ]
 }
]
}
